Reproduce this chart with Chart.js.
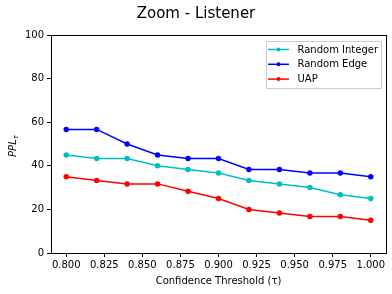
<!DOCTYPE html>
<html>
<head>
<meta charset="utf-8">
<script src="https://cdn.jsdelivr.net/npm/chart.js@4.4.1/dist/chart.umd.min.js"></script>
<style>
  html,body{margin:0;padding:0;background:#fff;}
  #wrap{width:392px;height:294px;}
</style>
</head>
<body>
<div id="wrap"><canvas id="c" width="392" height="294"></canvas></div>
<script>
// data
const thresholds = [0.80, 0.82, 0.84, 0.86, 0.88, 0.90, 0.92, 0.94, 0.96, 0.98, 1.00];
const randomInteger = [45, 43.3, 43.3, 40, 38.3, 36.7, 33.3, 31.7, 30, 26.7, 25];
const randomEdge = [56.7, 56.7, 50, 45, 43.3, 43.3, 38.3, 38.3, 36.7, 36.7, 35];
const uap = [35, 33.3, 31.7, 31.7, 28.3, 25, 20, 18.3, 16.7, 16.7, 15];
const xTicks = [0.800, 0.825, 0.850, 0.875, 0.900, 0.925, 0.950, 0.975, 1.000];
const yTicks = [0, 20, 40, 60, 80, 100];

const FONT = 'DejaVu Sans';
const series = [
  {label:'Random Integer', data:randomInteger, color:'#00bfbf'},
  {label:'Random Edge', data:randomEdge, color:'#0000ff'},
  {label:'UAP', data:uap, color:'#ff0000'}
];

function toPts(vals){ return thresholds.map((x,i)=>({x:x, y:vals[i]})); }

// frame, title, y label and legend box drawn like matplotlib
const extras = {
  id:'extras',
  afterDraw(chart){
    const ctx = chart.ctx, a = chart.chartArea;
    ctx.save();
    ctx.strokeStyle = '#000'; ctx.lineWidth = 1;
    ctx.strokeRect(Math.round(a.left)+0.5, Math.round(a.top)+0.5, Math.round(a.right-a.left), Math.round(a.bottom-a.top));

    // title
    ctx.fillStyle = '#000';
    ctx.font = '15px "'+FONT+'"';
    ctx.textAlign = 'center'; ctx.textBaseline = 'middle';
    ctx.fillText('Zoom - Listener', 196, 14);

    // y label PPL_tau
    ctx.translate(13, 146);
    ctx.rotate(-Math.PI/2);
    ctx.font = 'italic 10px "'+FONT+'"';
    ctx.textAlign = 'left'; ctx.textBaseline = 'middle';
    const w1 = ctx.measureText('PPL').width;
    ctx.font = 'italic 7px "'+FONT+'"';
    const w2 = ctx.measureText('τ').width;
    const start = -(w1+w2)/2;
    ctx.font = 'italic 10px "'+FONT+'"';
    ctx.fillText('PPL', start, 0);
    ctx.font = 'italic 7px "'+FONT+'"';
    ctx.fillText('τ', start+w1, 3);
    ctx.restore();

    // legend
    ctx.save();
    const bx = 266, by = 41, bw = 115, bh = 47;
    ctx.fillStyle = 'rgba(255,255,255,0.8)';
    ctx.strokeStyle = '#cccccc'; ctx.lineWidth = 1;
    ctx.beginPath();
    ctx.rect(bx+0.5, by+0.5, bw, bh);
    ctx.fill(); ctx.stroke();
    ctx.font = '10px "'+FONT+'"';
    ctx.textAlign = 'left'; ctx.textBaseline = 'middle';
    series.forEach((s,i)=>{
      const y = 49.5 + i*14.8;
      ctx.strokeStyle = s.color; ctx.lineWidth = 1.5;
      ctx.beginPath(); ctx.moveTo(268, y); ctx.lineTo(289, y); ctx.stroke();
      ctx.fillStyle = s.color;
      ctx.beginPath(); ctx.arc(278.5, y, 2, 0, Math.PI*2); ctx.fill();
      ctx.fillStyle = '#000';
      ctx.fillText(s.label, 297.5, y+0.5);
    });
    ctx.restore();
  }
};

new Chart(document.getElementById('c').getContext('2d'), {
  type:'line',
  data:{
    datasets: series.map(s=>({
      label:s.label, data:toPts(s.data),
      borderColor:s.color, backgroundColor:s.color,
      borderWidth:1.5, pointRadius:2, pointHoverRadius:2, tension:0
    }))
  },
  options:{
    responsive:false, animation:false,
    layout:{padding:{top:35, right:6, left:0, bottom:0}},
    plugins:{legend:{display:false}, title:{display:false}, tooltip:{enabled:false}},
    scales:{
      x:{
        type:'linear', min:0.79, max:1.01,
        afterBuildTicks(scale){ scale.ticks = xTicks.map(v=>({value:v})); },
        afterFit(scale){ scale.height = 41; },
        ticks:{color:'#000', font:{family:FONT, size:10}, padding:2, maxRotation:0, autoSkip:false,
          callback:v=>Number(v).toFixed(3)},
        grid:{drawOnChartArea:false, drawTicks:true, tickLength:4, color:'#000'},
        border:{display:true, color:'#000'},
        title:{display:true, text:'Confidence Threshold (τ)', color:'#000', font:{family:FONT, size:10}, padding:{top:4, bottom:7}}
      },
      y:{
        min:0, max:100,
        afterBuildTicks(scale){ scale.ticks = yTicks.map(v=>({value:v})); },
        afterFit(scale){ scale.width = 51; },
        ticks:{color:'#000', font:{family:FONT, size:10}, padding:3},
        grid:{drawOnChartArea:false, drawTicks:true, tickLength:4, color:'#000'},
        border:{display:true, color:'#000'}
      }
    }
  },
  plugins:[extras]
});
</script>
</body>
</html>
